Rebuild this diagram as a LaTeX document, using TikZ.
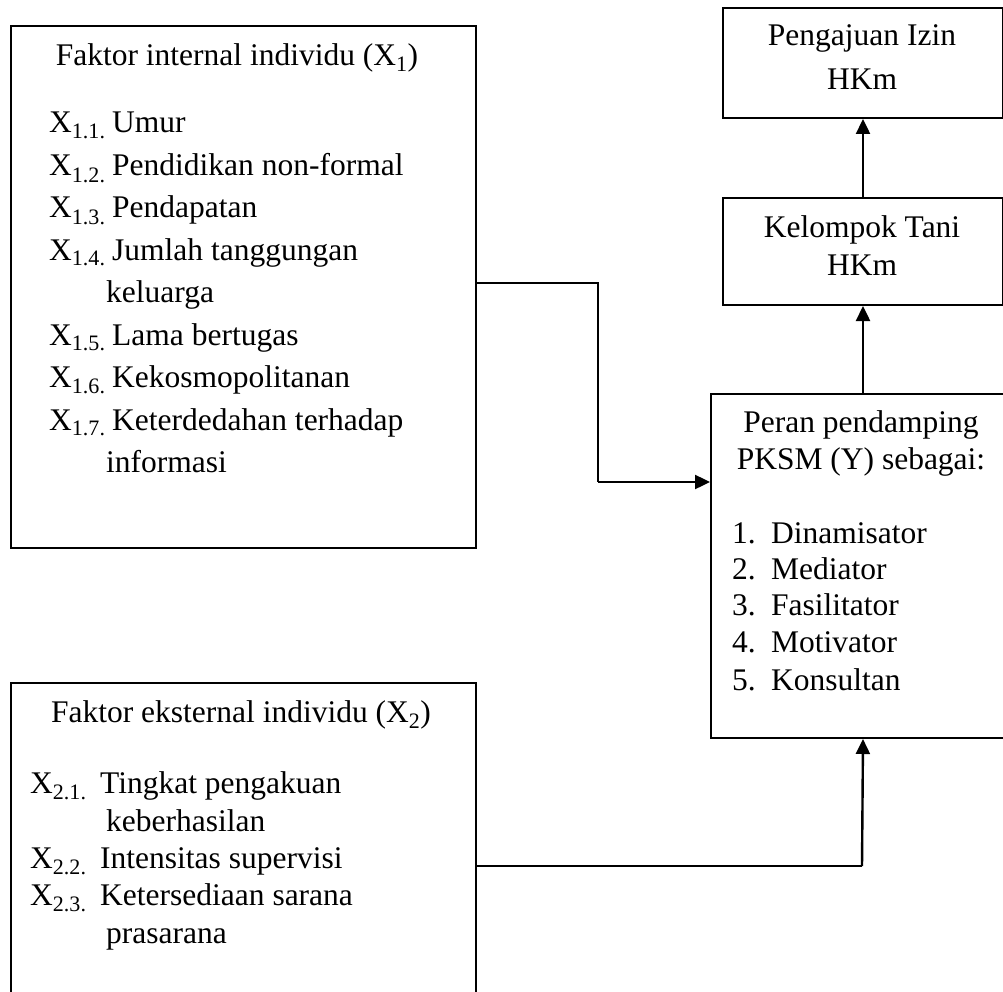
\documentclass[tikz,border=0pt]{standalone}
\usepackage{fontspec}
\setmainfont{Liberation Serif}
\usepackage{tikz}
\usetikzlibrary{arrows.meta}

\begin{document}
\begin{tikzpicture}[x=1pt,y=-1pt,
  every node/.style={font=\fontsize{31.5pt}{36pt}\selectfont, inner sep=0pt},
  box/.style={draw, line width=2pt, anchor=north west},
  conn/.style={line width=2pt},
  arr/.style={line width=2.4pt, -{Triangle[length=15pt,width=14pt]}}]
\useasboundingbox (0,0) rectangle (1003,992);
\clip (0,0) rectangle (1003,992);
% boxes
\node[box, minimum width=465pt, minimum height=522pt] (fx1) at (10,25) {};
\node[box, minimum width=465pt, minimum height=340pt] (fx2) at (10,682) {};
\node[box, minimum width=280pt, minimum height=110pt] (izin) at (722,7) {};
\node[box, minimum width=280pt, minimum height=107pt] (tani) at (722,197) {};
\node[box, minimum width=304pt, minimum height=344pt] (peran) at (710,393) {};
% X1
\node[anchor=base] (fx1head) at (237,66) {Faktor internal individu (X\textsubscript{1})};
\foreach \txt/\yy [count=\i] in {Umur/133, Pendidikan non-formal/176, Pendapatan/218,
    Jumlah tanggungan/260, Lama bertugas/345, Kekosmopolitanan/387, Keterdedahan terhadap/430} {
  \node[anchor=base west] (x1l\i) at (49,\yy) {X\textsubscript{1.\i.}};
  \node[anchor=base west] (x1t\i) at (112,\yy) {\txt};
}
\node[anchor=base west] (x1c4) at (106,302) {keluarga};
\node[anchor=base west] (x1c7) at (106,472) {informasi};
% X2
\node[anchor=base] (fx2head) at (241,722) {Faktor eksternal individu (X\textsubscript{2})};
\foreach \txt/\yy [count=\i] in {Tingkat pengakuan/793, Intensitas supervisi/868, Ketersediaan sarana/905} {
  \node[anchor=base west] (x2l\i) at (30,\yy) {X\textsubscript{2.\i.}};
  \node[anchor=base west] (x2t\i) at (100,\yy) {\txt};
}
\node[anchor=base west] (x2c1) at (106,831) {keberhasilan};
\node[anchor=base west] (x2c3) at (106,943) {prasarana};
% kanan
\node[anchor=base] (izin1) at (862,46) {Pengajuan Izin};
\node[anchor=base] (izin2) at (862,90) {HKm};
\node[anchor=base] (tani1) at (862,238) {Kelompok Tani};
\node[anchor=base] (tani2) at (862,275) {HKm};
\node[anchor=base] (peran1) at (861,432) {Peran pendamping};
\node[anchor=base] (peran2) at (861,469) {PKSM (Y) sebagai:};
\foreach \txt/\yy [count=\i] in {Dinamisator/543, Mediator/579, Fasilitator/615, Motivator/652, Konsultan/690} {
  \node[anchor=base west] (yl\i) at (732,\yy) {\i.};
  \node[anchor=base west] (yt\i) at (771,\yy) {\txt};
}
% panah
\coordinate (j1) at (598,283);
\coordinate (j2) at (598,482);
\coordinate (j3) at (862,866);
\draw[conn] (j1 -| fx1.east) -- (j1) -- (j2);
\draw[arr] (j2) -- (j2 -| peran.west);
\draw[conn] (j3 -| fx2.east) -- (j3);
\draw[arr] (j3) -- (peran.south);
\draw[arr] (peran.north) -- (tani.south);
\draw[arr] (tani.north) -- (izin.south);
\end{tikzpicture}
\end{document}
